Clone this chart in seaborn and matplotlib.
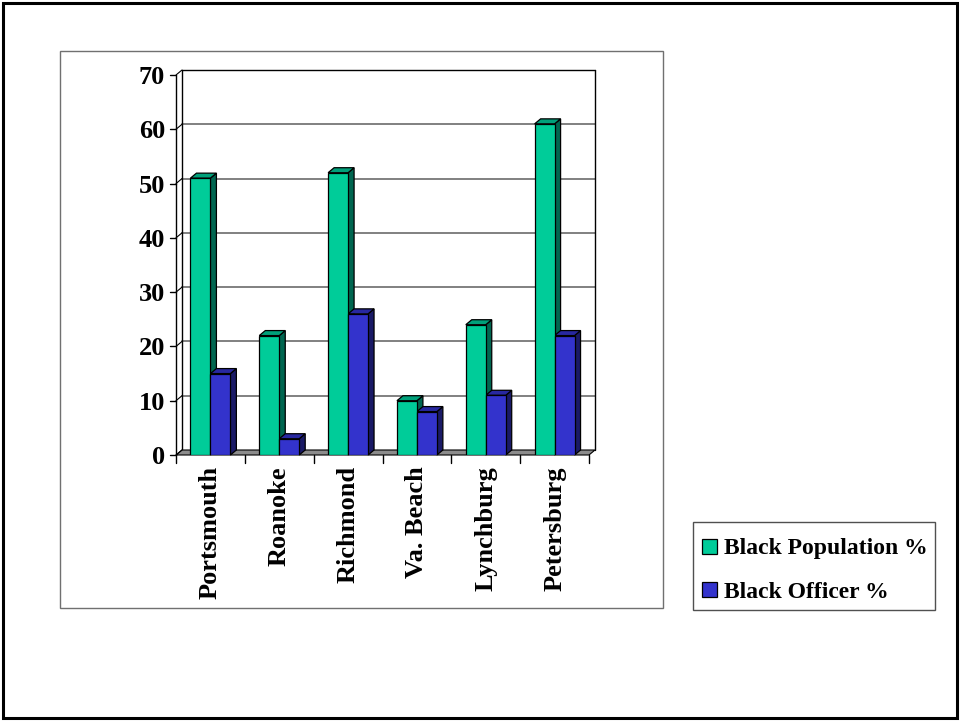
import matplotlib
matplotlib.use("Agg")
import matplotlib.pyplot as plt
import seaborn as sns
import pandas as pd
import numpy as np
from matplotlib.patches import Polygon, Rectangle
from matplotlib.lines import Line2D

# ---- data ----
cities = ["Portsmouth", "Roanoke", "Richmond", "Va. Beach", "Lynchburg", "Petersburg"]
series_names = ["Black Population %", "Black Officer %"]
black_population = [51, 22, 52, 10, 24, 61]
black_officer = [15, 3, 26, 8, 11, 22]
y_ticks = [0, 10, 20, 30, 40, 50, 60, 70]

df = pd.DataFrame({
    "city": cities * 2,
    "series": [series_names[0]] * len(cities) + [series_names[1]] * len(cities),
    "value": black_population + black_officer,
})

front_colors = {series_names[0]: "#00CC99", series_names[1]: "#3333CC"}
side_colors = {series_names[0]: "#006650", series_names[1]: "#1A1A66"}
top_colors = {series_names[0]: "#00A07A", series_names[1]: "#2828A0"}

sns.set_style("white")
plt.rcParams["font.family"] = ["Liberation Serif", "DejaVu Serif"]
plt.rcParams["font.weight"] = "bold"
plt.rcParams["text.color"] = "black"
plt.rcParams["xtick.color"] = "black"
plt.rcParams["ytick.color"] = "black"

W, H = 960, 721
fig = plt.figure(figsize=(W / 100, H / 100), dpi=100)

def fx(px):
    return px / W

def fy(py):
    return 1 - py / H

# outer border, chart-area border and legend box (figure coords)
fig.patches.append(Rectangle((fx(3), fy(718)), fx(954), (715) / H, transform=fig.transFigure,
                             fill=False, edgecolor="black", linewidth=2.2, zorder=0))
fig.patches.append(Rectangle((fx(60), fy(608)), fx(603), (608 - 51) / H, transform=fig.transFigure,
                             fill=False, edgecolor="#707070", linewidth=1.0, zorder=0))
fig.patches.append(Rectangle((fx(693), fy(610)), fx(242), (610 - 522) / H, transform=fig.transFigure,
                             fill=False, edgecolor="#505050", linewidth=1.0, zorder=0))

left, right, bottom_px, top_px = 176, 589, 455, 75
ax = fig.add_axes([fx(left), fy(bottom_px), fx(right - left), (bottom_px - top_px) / H])

sns.barplot(data=df, x="city", y="value", hue="series", order=cities, hue_order=series_names,
            palette=front_colors, width=0.58, saturation=1, edgecolor="black", linewidth=0.9,
            legend=False, ax=ax, zorder=5)

ax.set_xlim(-0.5, len(cities) - 0.5)
ax.set_ylim(0, 70)
ax.set_xlabel("")
ax.set_ylabel("")
for s in ["top", "right", "bottom", "left"]:
    ax.spines[s].set_visible(False)
ax.set_facecolor("none")
ax.set_yticks(y_ticks)
ax.set_yticklabels([str(t) for t in y_ticks], fontsize=19, fontweight="bold", color="black")
ax.tick_params(axis="y", length=0, pad=8)
ax.set_xticks(range(len(cities)))
ax.set_xticklabels(cities, rotation=90, fontsize=19, fontweight="bold", color="black")
ax.tick_params(axis="x", length=0, pad=8)

fig.canvas.draw()
DX, DY = 6, 5
T = ax.transData
OFF = np.array([DX, DY])

def d(x, y):
    return T.transform((x, y))

def line(p, q, **kw):
    ax.add_line(Line2D([p[0], q[0]], [p[1], q[1]], transform=None, clip_on=False, **kw))

x0, x1 = ax.get_xlim()

# floor
p_fl, p_fr = d(x0, 0), d(x1, 0)
floor = [p_fl, p_fr, p_fr + OFF, p_fl + OFF]
ax.add_patch(Polygon(floor, closed=True, transform=None, clip_on=False, facecolor="#8C8C8C",
                     edgecolor="black", linewidth=0.8, zorder=2))

# back-wall gridlines and outline
for t in y_ticks[1:-1]:
    line(d(x0, t) + OFF, d(x1, t) + OFF, color="#808080", linewidth=1.4, zorder=1)
line(d(x0, 70) + OFF, d(x1, 70) + OFF, color="black", linewidth=1.0, zorder=1)
for xx in (x0, x1):
    line(d(xx, 0) + OFF, d(xx, 70) + OFF, color="black", linewidth=1.0, zorder=1)

# front left axis with ticks and small diagonals to the back wall
line(d(x0, 0), d(x0, 70), color="black", linewidth=1.0, zorder=3)
for t in y_ticks:
    p = d(x0, t)
    line(p - [6, 0], p, color="black", linewidth=1.0, zorder=3)
    line(p, p + OFF, color="black", linewidth=0.8, zorder=3)

# x-axis boundary ticks below floor
for k in range(len(cities) + 1):
    p = d(x0 + k, 0)
    line(p, p - [0, 8], color="black", linewidth=1.0, zorder=3)

# 3D side and top faces for each bar
for i, patch in enumerate(ax.patches[:2 * len(cities)]):
    ser = series_names[i // len(cities)]
    bx, bw, bh = patch.get_x(), patch.get_width(), patch.get_height()
    if bh <= 0:
        continue
    br, tr, tl = d(bx + bw, 0), d(bx + bw, bh), d(bx, bh)
    side = [br, tr, tr + OFF, br + OFF]
    top = [tl, tr, tr + OFF, tl + OFF]
    ax.add_patch(Polygon(side, closed=True, transform=None, clip_on=False,
                         facecolor=side_colors[ser], edgecolor="black", linewidth=0.9, zorder=4))
    ax.add_patch(Polygon(top, closed=True, transform=None, clip_on=False,
                         facecolor=top_colors[ser], edgecolor="black", linewidth=0.9, zorder=4))

# legend (box drawn above)
handles = [Rectangle((0, 0), 1, 1, facecolor=front_colors[s], edgecolor="black", linewidth=0.9)
           for s in series_names]
leg = fig.legend(handles, series_names, loc="upper left",
                 bbox_to_anchor=(fx(693), fy(529)), bbox_transform=fig.transFigure,
                 frameon=False,
                 prop={"family": "Liberation Serif", "weight": "bold", "size": 17},
                 handlelength=0.6, handleheight=0.6, handletextpad=0.3,
                 labelspacing=0.95, borderpad=0.4, borderaxespad=0)
for txt in leg.get_texts():
    txt.set_color("black")

fig.savefig("out.png", dpi=100)
